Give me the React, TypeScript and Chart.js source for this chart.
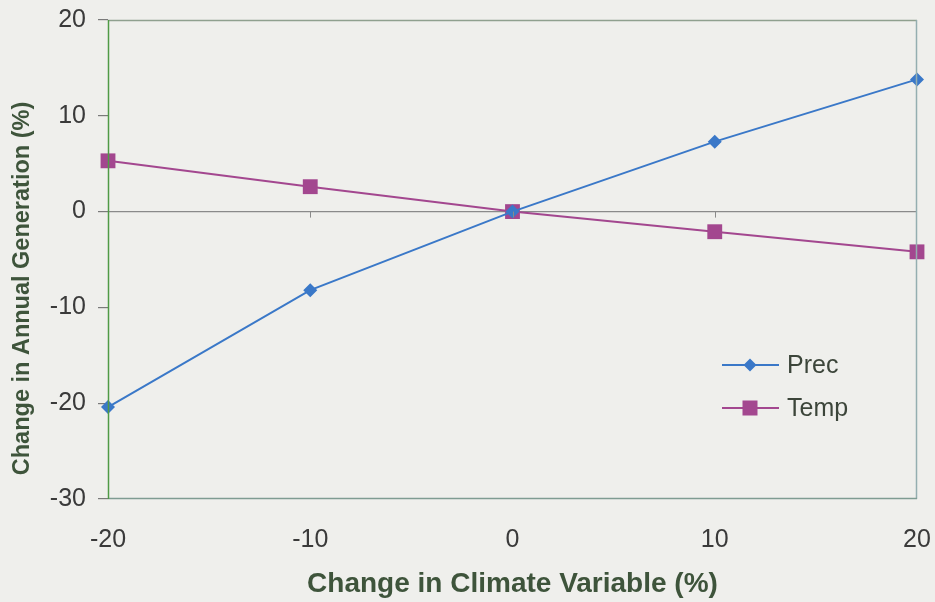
import React, { useEffect, useRef } from "react";
import { Chart, registerables } from "chart.js";

Chart.register(...registerables);

const xValues = [-20, -10, 0, 10, 20];
const precValues = [-20.4, -8.2, 0, 7.3, 13.8];
const tempValues = [5.3, 2.6, 0, -2.1, -4.2];
const seriesNames = ["Prec", "Temp"];
const xTitle = "Change in Climate Variable (%)";
const yTitle = "Change in Annual Generation (%)";

const PREC_COLOR = "#3a78c8";
const TEMP_COLOR = "#a3478f";
const BG = "#efefec";
const FONT = "'Liberation Sans', Arial, sans-serif";
const TITLE_COLOR = "#3e543b";

const framePlugin = {
  id: "frame",
  beforeDraw(chart: any) {
    const { ctx, width, height } = chart;
    ctx.save();
    ctx.fillStyle = BG;
    ctx.fillRect(0, 0, width, height);
    ctx.restore();
  },
  afterDatasetsDraw(chart: any) {
    const { ctx, chartArea } = chart;
    const { left, right, top, bottom } = chartArea;
    const xs = chart.scales.x;
    const ys = chart.scales.y;
    const y0 = ys.getPixelForValue(0);
    ctx.save();
    ctx.lineWidth = 1.5;
    ctx.strokeStyle = "#8fa08f";
    ctx.beginPath();
    ctx.moveTo(left, top + 0.5);
    ctx.lineTo(right, top + 0.5);
    ctx.stroke();
    ctx.strokeStyle = "#94aeb0";
    ctx.beginPath();
    ctx.moveTo(right - 0.5, top);
    ctx.lineTo(right - 0.5, bottom);
    ctx.stroke();
    ctx.strokeStyle = "#7f9c92";
    ctx.beginPath();
    ctx.moveTo(left, bottom - 0.5);
    ctx.lineTo(right, bottom - 0.5);
    ctx.stroke();
    ctx.strokeStyle = "#4f9a45";
    ctx.beginPath();
    ctx.moveTo(left + 0.5, top);
    ctx.lineTo(left + 0.5, bottom);
    ctx.stroke();
    ctx.strokeStyle = "#8a8a8a";
    ctx.lineWidth = 1;
    for (const v of xValues.slice(1, -1)) {
      const px = Math.round(xs.getPixelForValue(v)) + 0.5;
      ctx.beginPath();
      ctx.moveTo(px, y0);
      ctx.lineTo(px, y0 + 6);
      ctx.stroke();
    }
    ctx.restore();
  },
  afterDraw(chart: any) {
    const { ctx, chartArea } = chart;
    ctx.save();
    ctx.translate(23, (chartArea.top + chartArea.bottom) / 2 + 29);
    ctx.rotate(-Math.PI / 2);
    ctx.font = "bold 23.5px " + FONT;
    ctx.fillStyle = TITLE_COLOR;
    ctx.textAlign = "center";
    ctx.textBaseline = "middle";
    ctx.fillText(yTitle, 0, 0);
    ctx.restore();

    const items = [
      { name: seriesNames[0], color: PREC_COLOR, shape: "diamond" },
      { name: seriesNames[1], color: TEMP_COLOR, shape: "square" },
    ];
    const lx = chartArea.right - 195;
    let ly = chartArea.top + 345;
    ctx.save();
    ctx.font = "25px " + FONT;
    ctx.textBaseline = "middle";
    for (const it of items) {
      ctx.strokeStyle = it.color;
      ctx.lineWidth = 2;
      ctx.beginPath();
      ctx.moveTo(lx, ly);
      ctx.lineTo(lx + 57, ly);
      ctx.stroke();
      ctx.fillStyle = it.color;
      const cx = lx + 28;
      if (it.shape === "diamond") {
        ctx.beginPath();
        ctx.moveTo(cx, ly - 6.5);
        ctx.lineTo(cx + 6.5, ly);
        ctx.lineTo(cx, ly + 6.5);
        ctx.lineTo(cx - 6.5, ly);
        ctx.closePath();
        ctx.fill();
      } else {
        ctx.fillRect(cx - 7.5, ly - 7.5, 15, 15);
      }
      ctx.fillStyle = "#3c453a";
      ctx.fillText(it.name, lx + 65, ly + 1);
      ly += 43;
    }
    ctx.restore();
  },
};

export default function App() {
  const ref = useRef<HTMLCanvasElement | null>(null);
  useEffect(() => {
    document.body.style.margin = "0";
    document.body.style.background = BG;
    if (!ref.current) return;
    const chart = new Chart(ref.current, {
      type: "line",
      data: {
        datasets: [
          {
            label: seriesNames[0],
            data: xValues.map((x, i) => ({ x, y: precValues[i] })),
            borderColor: PREC_COLOR,
            backgroundColor: PREC_COLOR,
            borderWidth: 2,
            pointStyle: "rectRot",
            pointRadius: 7,
            pointBorderWidth: 0,
            clip: false,
          } as any,
          {
            label: seriesNames[1],
            data: xValues.map((x, i) => ({ x, y: tempValues[i] })),
            borderColor: TEMP_COLOR,
            backgroundColor: TEMP_COLOR,
            borderWidth: 2,
            pointStyle: "rect",
            pointRadius: 10.5,
            pointBorderWidth: 0,
            clip: false,
          } as any,
        ],
      },
      plugins: [framePlugin],
      options: {
        animation: false,
        responsive: false,
        layout: { padding: { top: 20, right: 18, left: 0, bottom: 0 } },
        plugins: { legend: { display: false }, tooltip: { enabled: false } },
        scales: {
          x: {
            type: "linear",
            min: -20,
            max: 20,
            border: { display: false },
            grid: {
              display: true,
              drawOnChartArea: false,
              drawTicks: true,
              tickLength: 23,
              tickColor: "transparent",
              color: "transparent",
            },
            ticks: {
              stepSize: 10,
              padding: 3,
              color: "#3a3a3a",
              font: { family: FONT, size: 25 },
            },
            title: {
              display: true,
              text: xTitle,
              color: TITLE_COLOR,
              padding: { top: 0, bottom: 1 },
              font: { family: FONT, size: 28, weight: "bold" },
            },
            afterFit(scale: any) {
              scale.height = 103;
            },
          },
          y: {
            min: -30,
            max: 20,
            border: { display: false },
            grid: {
              color: (c: any) => (c.tick && c.tick.value === 0 ? "#8a8a8a" : "transparent"),
              tickColor: "#7a7a7a",
              tickLength: 10,
              lineWidth: 1.2,
            },
            ticks: {
              stepSize: 10,
              padding: 12,
              color: "#3a3a3a",
              font: { family: FONT, size: 25 },
            },
            title: { display: false },
            afterFit(scale: any) {
              scale.width = 108;
              scale.paddingTop = 0;
              scale.paddingBottom = 0;
            },
          },
        },
      } as any,
    });
    return () => chart.destroy();
  }, []);
  return <canvas ref={ref} width={935} height={602} style={{ display: "block" }} />;
}
